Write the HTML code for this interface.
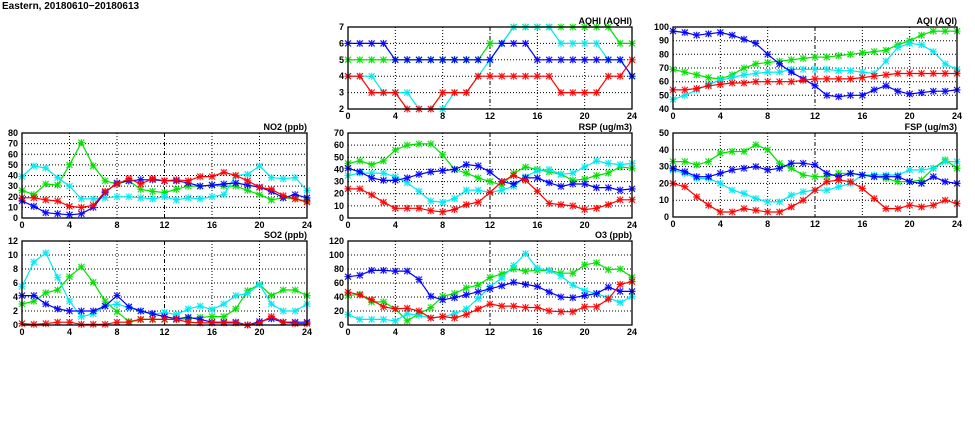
<!DOCTYPE html>
<html><head><meta charset="utf-8"><style>
html,body{margin:0;padding:0;background:#fff;}
svg{display:block;}
text{font-family:"Liberation Sans",sans-serif;font-weight:bold;font-size:9px;fill:#000;}
</style></head><body>
<svg id="s" width="975" height="447" viewBox="0 0 975 447" xmlns="http://www.w3.org/2000/svg">
<text x="2" y="9" style="font-size:10px">Eastern, 20180610−20180613</text>
</svg>
<script>
const C={g:"#00e000",c:"#00e8f0",b:"#0000ff",r:"#ff0000"};
function lerp(a){for(let i=0;i<a.length;i++)if(a[i]==null){let j=i;while(a[j]==null)j++;let p=a[i-1],q=a[j];for(let k=i;k<j;k++)a[k]=p+(q-p)*(k-i+1)/(j-i+1);}return a;}
const P=[
{x:348,y:27,w:284,h:82,t:"AQHI (AQHI)",min:2,max:7,step:1,s:{
g:[5,5,5,5,5,5,5,5,5,5,5,5,6,6,7,7,7,7,7,7,7,7,7,6,6],
c:[4,4,4,3,3,3,2,2,2,3,3,4,5,6,7,7,7,7,6,6,6,6,5,5,4],
b:[6,6,6,6,5,5,5,5,5,5,5,5,5,6,6,6,5,5,5,5,5,5,5,5,4],
r:[4,4,3,3,3,2,2,2,3,3,3,4,4,4,4,4,4,4,3,3,3,3,4,4,5]}},
{x:673,y:27,w:284,h:82,t:"AQI (AQI)",min:40,max:100,step:10,s:{
g:[69,67,65,63,62,65,70,73,74,75,76,77,78,78,79,80,81,82,83,87,90,94,97,97,97],
c:[47,50,54,58,61,63,65,66,67,67,69,69,69,69,68,68,67,66,75,85,88,87,82,73,69],
r:[54,54,55,57,58,59,59,60,60,60,60,61,62,62,62,62,63,64,65,66,66,66,66,66,66],
b:[97,96,94,95,96,94,91,88,80,73,67,62,57,50,49,50,50,54,57,53,51,52,53,53,54]}},
{x:22,y:133,w:285,h:85,t:"NO2 (ppb)",min:0,max:80,step:10,s:{
c:[39,49,47,38,30,18,18,19,20,20,19,18,20,17,19,18,20,22,40,41,49,38,37,38,26],
g:[26,22,32,31,50,71,49,35,32,35,27,25,24,27,30,30,31,30,30,26,22,17,19,18,16],
b:[16,11,5,4,3,4,10,24,33,35,36,36,35,35,33,30,31,32,33,31,29,25,19,22,19],
r:[19,19,17,16,11,10,12,25,32,37,32,37,35,36,35,39,39,43,40,35,29,27,21,18,15]}},
{x:348,y:133,w:284,h:85,t:"RSP (ug/m3)",min:0,max:70,step:10,s:{
g:[45,47,44,47,56,60,61,61,52,40,37,33,30,27,37,42,40,38,36,31,32,35,37,42,41],
c:[35,37,37,37,34,29,22,14,13,16,23,23,21,23,26,34,39,40,36,37,42,47,45,44,45],
b:[41,38,33,31,31,33,36,38,39,40,44,43,38,30,28,33,33,29,26,28,28,25,25,23,24],
r:[24,24,19,13,8,8,8,6,5,7,11,13,21,30,35,31,22,12,11,10,7,8,11,15,15]}},
{x:673,y:133,w:284,h:84,t:"FSP (ug/m3)",min:0,max:50,step:10,s:{
g:[33,33,31,33,38,39,39,43,40,32,29,25,24,24,26,26,25,24,23,21,21,22,29,34,29],
c:[28,26,23,23,20,16,14,11,9,9,13,15,16,16,18,20,25,25,25,25,28,28,29,33,33],
b:[29,27,24,24,26,28,29,30,28,29,32,32,31,26,24,26,25,24,24,24,21,20,24,21,20],
r:[20,18,12,7,3,3,5,4,3,3,6,10,16,21,22,21,17,11,5,5,7,6,7,10,8]}},
{x:22,y:241,w:285,h:84,t:"SO2 (ppb)",min:0,max:12,step:2,s:{
c:[5.5,9,10.3,6.8,3.4,1.2,1.6,2.7,3,2.5,2,1.5,1.8,1.5,2.3,2.7,2.2,3,4.2,4.5,5.8,3,2,2,3],
g:[3,3.4,4.6,5,6.9,8.3,6.1,3.4,1.9,0.5,0.8,0.8,0.8,0.8,0.9,1.1,1.2,1.2,2.3,4.9,5.8,4.2,5,5,4.2],
b:[4.2,4.2,3,2.3,2,2,2,2.7,4.2,2.6,2,1.6,1.2,0.9,1.1,0.8,0.4,0.4,0.4,0,0.5,0.9,0.4,0.4,0.4],
r:[0.2,0.1,0.2,0.4,0.4,0.1,0.1,0.1,0.4,0.4,0.8,0.8,0.8,0.8,0.4,0.3,0.3,0.3,0.3,0,0.3,1.2,0.4,0.2,0.2]}},
{x:348,y:241,w:284,h:84,t:"O3 (ppb)",min:0,max:120,step:20,s:{
g:[42,44,33,33,23,6,16,25,41,45,53,57,68,73,80,77,78,78,74,74,86,89,79,80,68],
c:[15,8,8,8,6,16,14,10,12,16,23,38,55,67,85,102,81,78,70,57,49,45,39,32,41],
b:lerp([69,71,78,78,77,77,65,41,36,39,null,null,null,56,61,58,55,47,40,39,42,45,54,48,48]),
r:[47,43,36,26,23,24,20,10,12,10,15,23,30,27,27,25,25,20,19,19,26,26,37,58,62]}}
];
let h="";
for(const p of P){
 const X=i=>p.x+p.w*i/24, Y=v=>p.y+p.h*(1-(v-p.min)/(p.max-p.min));
 for(let v=p.min+p.step;v<p.max-1e-9;v+=p.step){h+=`<line x1="${p.x}" x2="${p.x+p.w}" y1="${Y(v).toFixed(1)}" y2="${Y(v).toFixed(1)}" stroke="#000" stroke-width="1" stroke-dasharray="1,2"/>`;}
 for(let i=4;i<24;i+=4){h+=`<line x1="${X(i)}" x2="${X(i)}" y1="${p.y}" y2="${p.y+p.h}" stroke="#000" stroke-width="1" stroke-dasharray="${i==12?'4,2,1,2':'1,2'}"/>`;}
 for(let v=p.min;v<=p.max+1e-9;v+=p.step){h+=`<text x="${p.x-4}" y="${(Y(v)+3).toFixed(1)}" text-anchor="end">${+v.toFixed(2)}</text>`;}
 for(let i=0;i<=24;i+=4){h+=`<text x="${X(i)}" y="${p.y+p.h+10}" text-anchor="middle">${i}</text>`;}
 h+=`<text x="${p.x+p.w}" y="${p.y-3}" text-anchor="end">${p.t}</text>`;
 for(const k of ["g","c","b","r"]){const a=p.s[k];let pts=a.map((v,i)=>X(i).toFixed(1)+","+Y(v).toFixed(1)).join(" ");
  h+=`<polyline points="${pts}" fill="none" stroke="${C[k]}" stroke-width="1.2"/>`;
  for(let i=0;i<a.length;i++){const x=X(i),y=Y(a[i]);h+=`<path d="M${x-3} ${y-3}L${x+3} ${y+3}M${x-3} ${y+3}L${x+3} ${y-3}M${x-3.5} ${y}H${x+3.5}M${x} ${y-3.5}V${y+3.5}" stroke="${C[k]}" stroke-width="1.2" opacity="0.9"/>`;}
 }
 h+=`<rect x="${p.x}" y="${p.y}" width="${p.w}" height="${p.h}" fill="none" stroke="#000" stroke-width="1.3"/>`;
}
document.getElementById("s").insertAdjacentHTML("beforeend",h);
</script>
</body></html>
